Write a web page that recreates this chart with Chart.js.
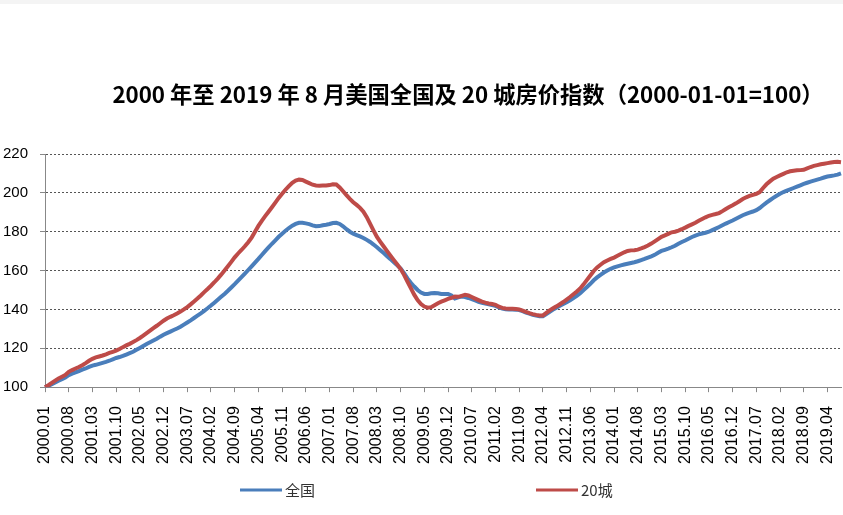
<!DOCTYPE html>
<html>
<head>
<meta charset="utf-8">
<script src="https://cdn.jsdelivr.net/npm/chart.js@4/dist/chart.umd.min.js"></script>
<style>
  html, body { margin: 0; padding: 0; background: #fff; }
  #wrap { width: 843px; height: 515px; position: relative; }
</style>
</head>
<body>
<div id="wrap"><canvas id="hpiChart"></canvas></div>
<script>
// 2000.01 - 2019.08, monthly
const startYear = 2000;
const monthCount = 236;

const titleText = '2000 年至 2019 年 8 月美国全国及 20 城房价指数（2000-01-01=100）';
const seriesNames = ['全国', '20城'];
const yTicks = [100, 120, 140, 160, 180, 200, 220];

// 全国 (national), one row per year
const national = [
  100.0, 100.7, 101.5, 102.4, 103.3, 104.1, 105.0, 106.2, 107.0, 107.6, 108.3, 109.0,
  109.6, 110.4, 111.1, 111.5, 112.0, 112.5, 113.0, 113.6, 114.3, 115.0, 115.5, 116.1,
  116.8, 117.5, 118.2, 119.2, 120.2, 121.2, 122.2, 123.1, 124.0, 124.9, 126.0, 127.0,
  127.8, 128.6, 129.4, 130.2, 131.1, 132.2, 133.3, 134.4, 135.6, 136.8, 138.0, 139.3,
  140.6, 142.0, 143.5, 145.0, 146.5, 148.0, 149.6, 151.3, 153.0, 154.8, 156.6, 158.4,
  160.3, 162.2, 164.1, 166.0, 168.0, 170.0, 171.9, 173.8, 175.6, 177.4, 179.0, 180.5,
  181.9, 183.1, 184.0, 184.6, 184.6, 184.3, 183.9, 183.3, 182.8, 182.9, 183.3, 183.6,
  184.0, 184.5, 184.6, 184.0, 182.8, 181.3, 180.0, 179.0, 178.3, 177.6, 176.8, 175.8,
  174.7, 173.4, 172.0, 170.5, 169.0, 167.4, 165.9, 164.3, 162.7, 161.0, 158.7, 156.0,
  153.7, 151.8, 150.0, 148.7, 148.0, 148.0, 148.3, 148.5, 148.3, 148.0, 147.9, 147.9,
  147.2, 145.6, 146.2, 146.6, 146.4, 145.9, 145.3, 144.6, 143.9, 143.4, 143.0, 142.6,
  142.3, 141.8, 141.0, 140.4, 140.1, 140.0, 140.0, 139.9, 139.7, 139.1, 138.4, 137.8,
  137.2, 136.8, 136.5, 136.5, 137.6, 138.8, 139.9, 140.9, 141.9, 142.8, 143.7, 144.7,
  145.9, 147.0, 148.3, 150.0, 151.6, 153.2, 155.0, 156.5, 157.8, 159.0, 160.0, 160.9,
  161.6, 162.2, 162.7, 163.1, 163.5, 163.9, 164.3, 164.8, 165.4, 166.0, 166.7, 167.3,
  168.1, 169.2, 170.1, 170.7, 171.3, 172.0, 172.8, 173.8, 174.7, 175.5, 176.4, 177.3,
  178.0, 178.6, 179.1, 179.5, 180.0, 180.8, 181.6, 182.4, 183.3, 184.2, 185.0, 185.8,
  186.7, 187.6, 188.5, 189.2, 189.8, 190.4, 191.1, 192.2, 193.6, 195.0, 196.2, 197.4,
  198.5, 199.5, 200.4, 201.1, 201.8, 202.5, 203.2, 203.9, 204.6, 205.2, 205.8, 206.3,
  206.8, 207.3, 207.9, 208.4, 208.7, 209.0, 209.4, 210.0
];

// 20城 (20-city composite), one row per year
const city20 = [
  100.0, 101.0, 102.2, 103.4, 104.5, 105.4, 106.3, 107.9, 108.8, 109.6, 110.4, 111.3,
  112.4, 113.6, 114.6, 115.3, 115.8, 116.3, 116.9, 117.6, 118.2, 118.8, 119.6, 120.6,
  121.5, 122.3, 123.2, 124.2, 125.3, 126.5, 127.8, 129.1, 130.4, 131.6, 132.9, 134.2,
  135.3, 136.2, 137.0, 137.9, 138.9, 140.0, 141.2, 142.6, 144.1, 145.6, 147.2, 148.9,
  150.5, 152.2, 154.0, 155.9, 157.9, 160.0, 162.2, 164.5, 166.8, 168.8, 170.6, 172.5,
  174.6, 177.0, 180.0, 183.0, 185.6, 188.0, 190.3, 192.6, 195.0, 197.4, 199.5, 201.6,
  203.5, 205.2, 206.3, 206.8, 206.6, 205.8, 205.0, 204.2, 203.8, 203.7, 203.8, 203.8,
  204.0, 204.4, 204.3, 202.8, 200.8, 198.8, 196.9, 195.2, 193.8, 192.3, 190.3, 187.5,
  184.0, 180.6, 177.3, 174.8, 172.4, 170.0, 167.7, 165.4, 163.1, 160.8, 157.8, 154.4,
  151.0, 147.6, 144.8, 142.8, 141.5, 140.9, 141.2, 142.2, 143.2, 144.0, 144.7, 145.4,
  146.0, 146.6, 146.5, 147.0, 147.5, 147.2, 146.4, 145.6, 144.8, 144.0, 143.5, 143.1,
  142.8, 142.4, 141.4, 140.8, 140.5, 140.4, 140.4, 140.2, 140.0, 139.4, 138.7, 138.1,
  137.6, 137.2, 136.9, 136.9, 138.2, 139.5, 140.6, 141.6, 142.7, 143.8, 145.1, 146.4,
  147.8, 149.2, 150.8, 152.9, 155.2, 157.5, 159.8, 161.6, 163.0, 164.3, 165.2, 166.0,
  166.7, 167.6, 168.5, 169.4, 170.1, 170.4, 170.5, 170.8, 171.4, 172.1, 172.9, 173.9,
  175.0, 176.2, 177.4, 178.1, 178.9, 179.7, 180.0, 180.6, 181.3, 182.1, 183.0, 183.8,
  184.6, 185.6, 186.5, 187.4, 188.2, 188.7, 189.1, 189.6, 190.6, 191.7, 192.7, 193.6,
  194.6, 195.7, 196.8, 197.7, 198.4, 199.0, 199.5, 200.4, 202.5, 204.4, 205.9, 207.3,
  208.2, 209.0, 209.8, 210.6, 211.1, 211.4, 211.6, 211.7, 211.9, 212.6, 213.3, 213.9,
  214.3, 214.7, 215.0, 215.3, 215.6, 215.9, 216.0, 215.8
];

// month labels like 2000.01
const monthLabels = [];
for (let i = 0; i < monthCount; i++) {
  const y = startYear + Math.floor(i / 12);
  const m = (i % 12) + 1;
  monthLabels.push(y + '.' + (m < 10 ? '0' + m : m));
}
const labelEvery = 7;

const blue = '#4a7ebb';
const red = '#be4b48';

// title and bottom legend, drawn at fixed spots like the original Excel chart
const decorPlugin = {
  id: 'decor',
  beforeDraw(chart) {
    const ctx = chart.ctx;
    ctx.save();
    ctx.fillStyle = '#f4f4f4';
    ctx.fillRect(0, 0, chart.width, 4);
    ctx.restore();
  },
  afterDraw(chart) {
    const ctx = chart.ctx;
    ctx.save();
    ctx.fillStyle = '#000';
    ctx.font = 'bold 22.3px "Noto Sans CJK SC", sans-serif';
    ctx.textAlign = 'center';
    ctx.textBaseline = 'middle';
    ctx.fillText(titleText, 468, 95);

    // legend
    const legendX = [240, 536];
    const legendY = 490;
    ctx.font = '15px "Noto Sans CJK SC", sans-serif';
    ctx.textAlign = 'left';
    chart.data.datasets.forEach((ds, i) => {
      ctx.strokeStyle = ds.borderColor;
      ctx.lineWidth = 3;
      ctx.beginPath();
      ctx.moveTo(legendX[i], legendY);
      ctx.lineTo(legendX[i] + 42, legendY);
      ctx.stroke();
      ctx.fillStyle = '#333';
      ctx.fillText(ds.label, legendX[i] + 45, legendY);
    });
    ctx.restore();
  }
};

new Chart(document.getElementById('hpiChart'), {
  type: 'line',
  data: {
    labels: monthLabels,
    datasets: [
      {
        label: seriesNames[0],
        data: national,
        borderColor: blue,
        backgroundColor: blue,
        borderWidth: 4,
        pointRadius: 0,
        tension: 0,
        order: 1
      },
      {
        label: seriesNames[1],
        data: city20,
        borderColor: red,
        backgroundColor: red,
        borderWidth: 4,
        pointRadius: 0,
        tension: 0,
        order: 0
      }
    ]
  },
  options: {
    responsive: true,
    maintainAspectRatio: false,
    animation: false,
    layout: { padding: { left: 3, right: 2, top: 154, bottom: 37 } },
    plugins: {
      legend: { display: false },
      title: { display: false },
      tooltip: { enabled: false }
    },
    scales: {
      x: {
        type: 'category',
        offset: false,
        grid: {
          drawOnChartArea: false,
          drawTicks: true,
          tickLength: 5,
          tickColor: '#888'
        },
        border: { display: true, color: '#888', width: 1 },
        ticks: {
          autoSkip: false,
          minRotation: 90,
          maxRotation: 90,
          padding: 14,
          color: '#000',
          font: { family: '"Liberation Sans", Arial, sans-serif', size: 16 },
          callback: function (val, index) {
            return index % labelEvery === 0 ? this.getLabelForValue(val) : null;
          }
        },
        // tick padding should only push labels down, not squeeze the sides
        afterFit: scale => { scale.paddingLeft = 0; scale.paddingRight = 0; }
      },
      y: {
        min: yTicks[0],
        max: yTicks[yTicks.length - 1],
        afterBuildTicks: axis => { axis.ticks = yTicks.map(v => ({ value: v })); },
        afterFit: scale => { scale.width = 42; },
        grid: {
          color: '#555',
          lineWidth: 1,
          tickLength: 5,
          tickColor: '#888',
          tickBorderDash: []
        },
        border: { display: true, color: '#888', width: 1, dash: [2, 2] },
        ticks: {
          padding: 12,
          color: '#000',
          font: { family: '"Liberation Sans", Arial, sans-serif', size: 15 }
        }
      }
    }
  },
  plugins: [decorPlugin]
});
</script>
</body>
</html>
